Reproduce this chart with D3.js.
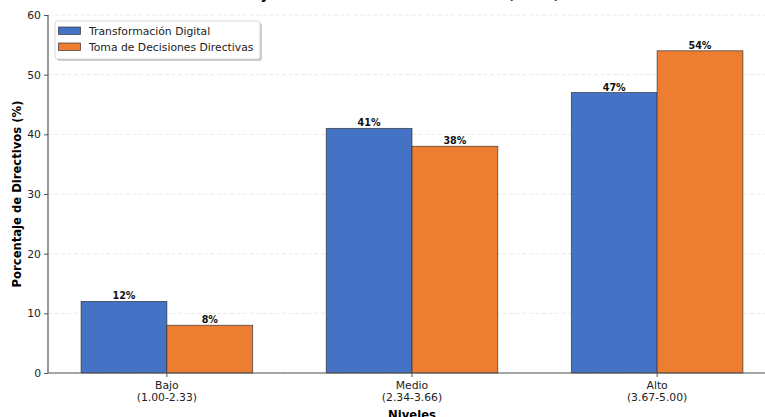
<!DOCTYPE html>
<html>
<head>
<meta charset="utf-8">
<script src="https://cdn.jsdelivr.net/npm/d3@7"></script>
<style>
  body { margin: 0; background: #fff; }
  svg { display: block; font-family: 'DejaVu Sans', sans-serif; }
</style>
</head>
<body>
<div id="chart"></div>
<script>
let width = 765
let height = 417

const levels = ['Bajo', 'Medio', 'Alto']
const ranges = ['(1.00-2.33)', '(2.34-3.66)', '(3.67-5.00)']
const seriesNames = ['Transformación Digital', 'Toma de Decisiones Directivas']
const transformacion = [12, 41, 47]
const decisiones = [8, 38, 54]
const yTicks = [0, 10, 20, 30, 40, 50, 60]

const colors = ['#4472C4', '#ED7D31']
const barW = 0.35

let svg = d3.select('#chart')
            .append('svg')
            .attr('width', width)
            .attr('height', height)

let xScale = d3.scaleLinear()
            .domain([-0.485, 2.485])
            .range([48, 776])

let yScale = d3.scaleLinear()
            .domain([0, 60])
            .range([373, 15])

// grid lines
svg.append('g')
    .selectAll('line')
    .data(yTicks)
    .enter()
    .append('line')
    .attr('x1', 48)
    .attr('x2', width)
    .attr('y1', d => yScale(d))
    .attr('y2', d => yScale(d))
    .attr('stroke', '#d0d0d0')
    .attr('stroke-opacity', 0.6)
    .attr('stroke-dasharray', '4,2.5')
    .attr('stroke-width', 0.8)

// bars
let series = [transformacion, decisiones]
series.forEach((vals, s) => {
    let offset = s === 0 ? -barW / 2 : barW / 2
    let grp = svg.append('g')
    grp.selectAll('rect')
        .data(vals)
        .enter()
        .append('rect')
        .attr('x', (d, i) => xScale(i + offset - barW / 2))
        .attr('y', d => yScale(d))
        .attr('width', xScale(barW) - xScale(0))
        .attr('height', d => yScale(0) - yScale(d))
        .attr('fill', colors[s])
        .attr('stroke', '#333')
        .attr('stroke-opacity', 0.85)
        .attr('stroke-width', 0.8)

    grp.selectAll('text')
        .data(vals)
        .enter()
        .append('text')
        .attr('x', (d, i) => xScale(i + offset))
        .attr('y', d => yScale(d) - 2)
        .attr('text-anchor', 'middle')
        .style('font-size', '9.6px')
        .style('font-weight', 'bold')
        .attr('fill', '#111')
        .text(d => d + '%')
})

// y axis
let yAxis = svg.append('g')
    .attr('transform', 'translate(48,0)')
    .call(d3.axisLeft(yScale).tickValues(yTicks).tickSize(4).tickPadding(3))
yAxis.select('.domain').remove()
yAxis.selectAll('line').attr('stroke', '#555').attr('stroke-width', 1)
yAxis.selectAll('text')
    .style('font-size', '10.8px')
    .style('font-family', 'DejaVu Sans')
    .attr('fill', '#222')

// x axis ticks
let xTicks = svg.append('g')
xTicks.selectAll('line')
    .data(levels)
    .enter()
    .append('line')
    .attr('x1', (d, i) => xScale(i))
    .attr('x2', (d, i) => xScale(i))
    .attr('y1', 373)
    .attr('y2', 377)
    .attr('stroke', '#555')

let xLabels = xTicks.selectAll('text')
    .data(levels)
    .enter()
    .append('text')
    .attr('text-anchor', 'middle')
    .style('font-size', '10.8px')
    .attr('fill', '#222')
xLabels.append('tspan')
    .attr('x', (d, i) => xScale(i))
    .attr('y', 389)
    .text(d => d)
xLabels.append('tspan')
    .attr('x', (d, i) => xScale(i))
    .attr('y', 401)
    .text((d, i) => ranges[i])

// spines
svg.append('line')
    .attr('x1', 48).attr('x2', 48)
    .attr('y1', 15).attr('y2', 373)
    .attr('stroke', '#555')
    .attr('stroke-width', 1.2)
svg.append('line')
    .attr('x1', 48).attr('x2', width)
    .attr('y1', 373).attr('y2', 373)
    .attr('stroke', '#555')
    .attr('stroke-width', 1.2)

// axis labels
svg.append('text')
    .attr('transform', 'translate(21,194) rotate(-90)')
    .attr('text-anchor', 'middle')
    .style('font-size', '11.6px')
    .style('font-weight', 'bold')
    .text('Porcentaje de Directivos (%)')

svg.append('text')
    .attr('x', 412)
    .attr('y', 418.5)
    .attr('text-anchor', 'middle')
    .style('font-size', '11.6px')
    .style('font-weight', 'bold')
    .text('Niveles')

// title (mostly cropped above the picture)
let title = svg.append('text')
    .attr('text-anchor', 'middle')
    .style('font-size', '13.4px')
    .style('font-weight', 'bold')
title.append('tspan')
    .attr('x', 410)
    .attr('y', -18)
    .text('Niveles de Transformación Digital')
title.append('tspan')
    .attr('x', 410)
    .attr('y', -1.5)
    .text('y Toma de Decisiones Directivas (n=50)')

// legend
let legend = svg.append('g')
legend.append('rect')
    .attr('x', 57).attr('y', 23)
    .attr('width', 205).attr('height', 38)
    .attr('rx', 2.5)
    .attr('fill', '#999')
    .attr('opacity', 0.5)
legend.append('rect')
    .attr('x', 55).attr('y', 21)
    .attr('width', 205).attr('height', 38)
    .attr('rx', 2.5)
    .attr('fill', '#fff')
    .attr('stroke', '#ccc')
    .attr('stroke-width', 0.8)

let items = legend.selectAll('.item')
    .data(seriesNames)
    .enter()
    .append('g')
    .attr('class', 'item')
items.append('rect')
    .attr('x', 58.5)
    .attr('y', (d, i) => 27 + i * 16)
    .attr('width', 22)
    .attr('height', 7.5)
    .attr('fill', (d, i) => colors[i])
    .attr('stroke', '#333')
    .attr('stroke-opacity', 0.85)
    .attr('stroke-width', 0.8)
items.append('text')
    .attr('x', 89)
    .attr('y', (d, i) => 35 + i * 16)
    .style('font-size', '10.8px')
    .attr('fill', '#222')
    .text(d => d)
</script>
</body>
</html>
